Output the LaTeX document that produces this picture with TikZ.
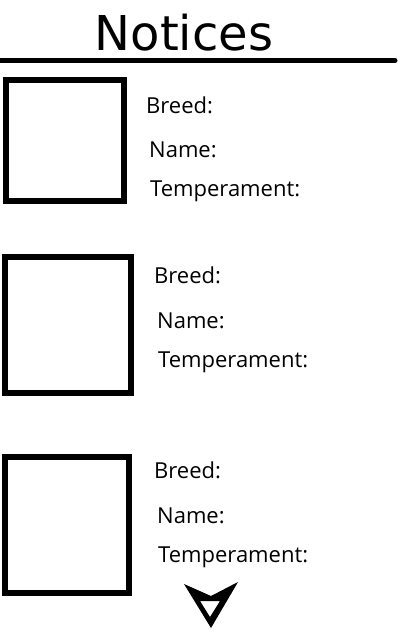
\documentclass[tikz,border=0pt]{standalone}
\usepackage{fontspec}
\setmainfont{Open Sans}
\newfontfamily\titlefont{DejaVu Sans}
\begin{document}
\begin{tikzpicture}[x=1pt,y=-1pt,
  photo/.style={draw=black,line width=6pt,fill=white},
  lbl/.style={anchor=base west,inner sep=0pt,font=\fontsize{22}{26}\selectfont},
  ttl/.style={anchor=base,inner sep=0pt,font=\titlefont\fontsize{48}{56}\selectfont}]
\useasboundingbox (0,0) rectangle (400,640);
\node[ttl] (title) at (184,50) {Notices};
\coordinate (ruleL) at (0,60.5);
\coordinate (ruleR) at (395,60.5);
\draw[line width=5pt,line cap=round] (ruleL) -- (ruleR);
% boxes
\draw[photo] (6,80) rectangle (124,201);
\draw[photo] (5,257) rectangle (131,393);
\draw[photo] (5,457) rectangle (129,593);
% labels set 1
\node[lbl] (b1) at (146,113) {Breed:};
\node[lbl] (n1) at (149,157) {Name:};
\node[lbl] (t1) at (150,196) {Temperament:};
% set 2
\node[lbl] (b2) at (154,283) {Breed:};
\node[lbl] (n2) at (157,328) {Name:};
\node[lbl] (t2) at (158,367) {Temperament:};
% set 3
\node[lbl] (b3) at (154,478) {Breed:};
\node[lbl] (n3) at (157,523) {Name:};
\node[lbl] (t3) at (158,562) {Temperament:};
% down arrow
\fill[black,even odd rule] (184,584) -- (211,596) -- (238,582) -- (211,628) -- cycle
  (200,601) -- (220,601) -- (210,617) -- cycle;
\end{tikzpicture}
\end{document}
